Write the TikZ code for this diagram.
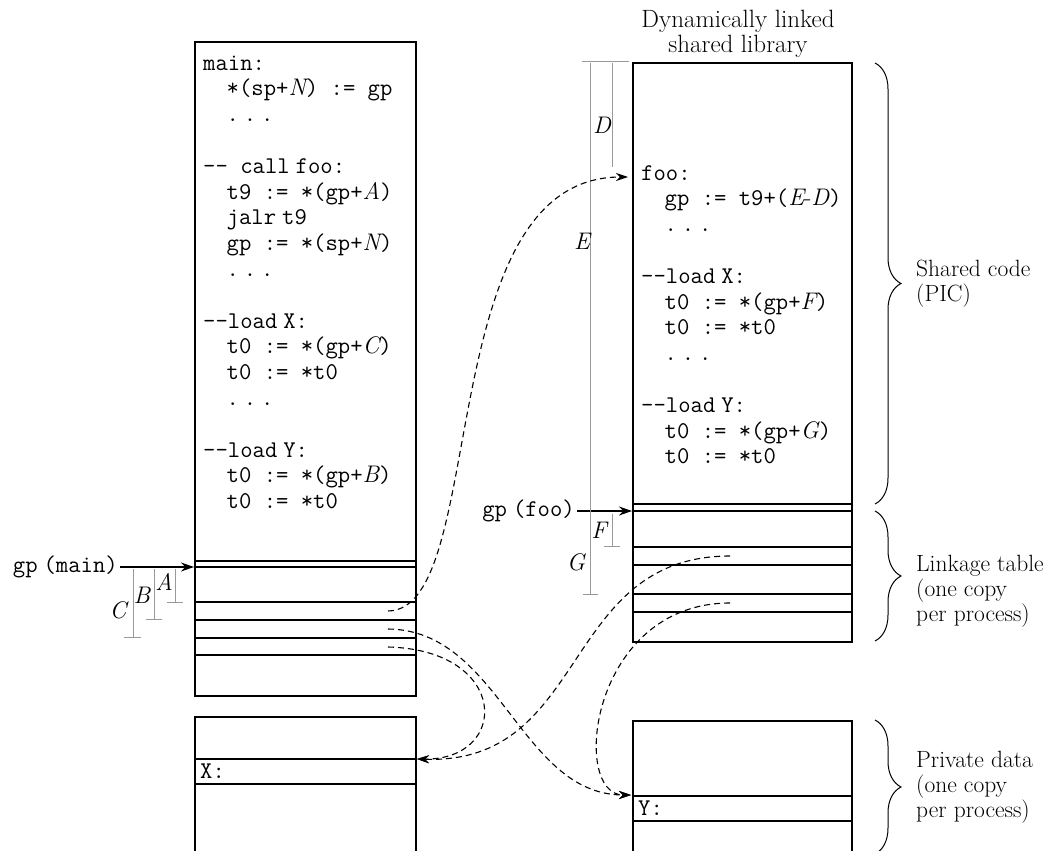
\documentclass[tikz,border=0pt]{standalone}
\usetikzlibrary{arrows.meta,decorations.pathreplacing}
\newcommand\cv[1]{{\rmfamily\itshape #1}}
\newcommand\dd{-\kern0pt-}
\newcommand\tdots{.\kern4.9pt.\kern4.9pt.}
\newcommand\ind{\hspace*{23.5pt}}
\newcommand\nsp{\hspace{6pt}}
\begin{document}
\begin{tikzpicture}[x=1pt,y=-1pt,
  box/.style={line width=1.6pt},
  row/.style={line width=1.2pt},
  dim/.style={draw=black!40, line width=1pt},
  link/.style={line width=1.1pt, dash pattern=on 6pt off 4pt, -{Stealth[length=12pt,width=8pt]}},
  ptr/.style={line width=1.2pt, -{Stealth[length=13pt,width=9pt]}},
  code/.style={anchor=north west, inner sep=0pt, align=left, font=\fontsize{24}{25.8}\selectfont\ttfamily},
  ttl/.style={inner sep=0pt, font=\fontsize{24}{25.8}\selectfont\ttfamily},
  lbl/.style={font=\fontsize{23.5}{25}\selectfont, align=left, anchor=west, inner sep=0pt},
  dl/.style={font=\fontsize{24}{24}\selectfont\itshape, inner sep=0pt},
  bracedeco/.style={decorate, decoration={brace, amplitude=26pt}, line width=1pt}
]
\useasboundingbox (0,0) rectangle (1045,851);

% ---- title
\node[font=\fontsize{25}{25}\selectfont, align=center, anchor=north, inner sep=0pt] (title) at (738,10) {\strut Dynamically linked\\shared library};

% ---- main program box
\draw[box] (195,42) rectangle (416,696);
\foreach \yy in {561,567,602,620,638,655} \draw[row] (195,\yy) -- (416,\yy);
\node[code] (maincode) at (203,51.9) {\strut main:\\
\ind*(sp+\cv{N}) := gp\\
\ind\tdots\\[25.8pt]
\dd\ call\nsp foo:\\
\ind t9 := *(gp+\cv{A})\\
\ind jalr\nsp t9\\
\ind gp := *(sp+\cv{N})\\
\ind\tdots\\[25.8pt]
\dd load\nsp X:\\
\ind t0 := *(gp+\cv{C})\\
\ind t0 := *t0\\
\ind\tdots\\[25.8pt]
\dd load\nsp Y:\\
\ind t0 := *(gp+\cv{B})\\
\ind t0 := *t0};

% ---- main private data
\draw[box] (195,851) -- (195,717) -- (416,717) -- (416,851);
\draw[row] (195,759) -- (416,759);
\draw[row] (195,784) -- (416,784);
\node[ttl, anchor=west] (xlab) at (200,771.5) {X:};

% ---- shared library box
\draw[box] (633,63) rectangle (852,642);
\foreach \yy in {504,511,547,565,594,612} \draw[row] (633,\yy) -- (852,\yy);
\node[code] (foocode) at (641,161.9) {\strut foo:\\
\ind gp := t9+(\cv{E}{\rmfamily -}\cv{D})\\
\ind\tdots\\[25.8pt]
\dd load\nsp X:\\
\ind t0 := *(gp+\cv{F})\\
\ind t0 := *t0\\
\ind\tdots\\[25.8pt]
\dd load\nsp Y:\\
\ind t0 := *(gp+\cv{G})\\
\ind t0 := *t0};

% ---- library private data
\draw[box] (633,851) -- (633,721) -- (852,721) -- (852,851);
\draw[row] (633,796) -- (852,796);
\draw[row] (633,821) -- (852,821);
\node[ttl, anchor=west] (ylab) at (638,808.5) {Y:};

% ---- gp pointers
\node[ttl, anchor=east, inner sep=2pt] (gpm) at (120,567) {gp\nsp(main)};
\coordinate (gpmtip) at (194,567);
\draw[ptr] (gpm.east) -- (gpmtip);
\node[ttl, anchor=east, inner sep=2pt] (gpf) at (577,511) {gp\nsp(foo)};
\coordinate (gpftip) at (632,511);
\draw[ptr] (gpf.east) -- (gpftip);

% ---- dimension bars (main)
\draw[dim] (175,569) -- (175,602) (167,602) -- (183,602);
\draw[dim] (154,569) -- (154,619) (146,619) -- (162,619);
\draw[dim] (133,569) -- (133,637) (124,637) -- (141,637);
\node[dl] (dA) at (164,582) {A};
\node[dl] (dB) at (142,595) {B};
\node[dl] (dC) at (118,610) {C};

% ---- dimension bars (library)
\draw[dim] (582,62) -- (629,62);
\draw[dim] (612,63) -- (612,167);
\draw[dim] (590,63) -- (590,594) (583,594) -- (598,594);
\draw[dim] (612,514) -- (612,546) (604,546) -- (620,546);
\node[dl] (dD) at (602,125) {D};
\node[dl] (dE) at (582,241) {E};
\node[dl] (dF) at (599,530) {F};
\node[dl] (dG) at (576,562) {G};

% ---- linkage connectors
\coordinate (eA) at (388,611);
\coordinate (eB) at (388,629);
\coordinate (eC) at (388,647);
\coordinate (eF) at (730,556);
\coordinate (eG) at (730,603);
\coordinate (fooin) at (628,177);
\coordinate (xin) at (417,759);
\coordinate (yin) at (631,795);
\draw[link] (eA) .. controls (490,610) and (430,177) .. (fooin);
\draw[link] (eB) .. controls (500,630) and (520,795) .. (yin);
\draw[link] (eC) .. controls (510,650) and (510,760) .. (xin);
\draw[link] (eF) .. controls (560,556) and (590,765) .. (xin);
\draw[link] (eG) .. controls (590,603) and (570,795) .. (yin);

% ---- braces and labels
\draw[bracedeco] (875,63) -- (875,504);
\draw[bracedeco] (875,511) -- (875,641);
\draw[bracedeco] (875,720) -- (875,854);
\node[lbl] (lshared) at (916,283.5) {Shared code\\(PIC)};
\node[lbl] (llink) at (916,591) {Linkage table\\(one copy\\per process)};
\node[lbl] (lpriv) at (916,787) {Private data\\(one copy\\per process)};
\end{tikzpicture}
\end{document}
